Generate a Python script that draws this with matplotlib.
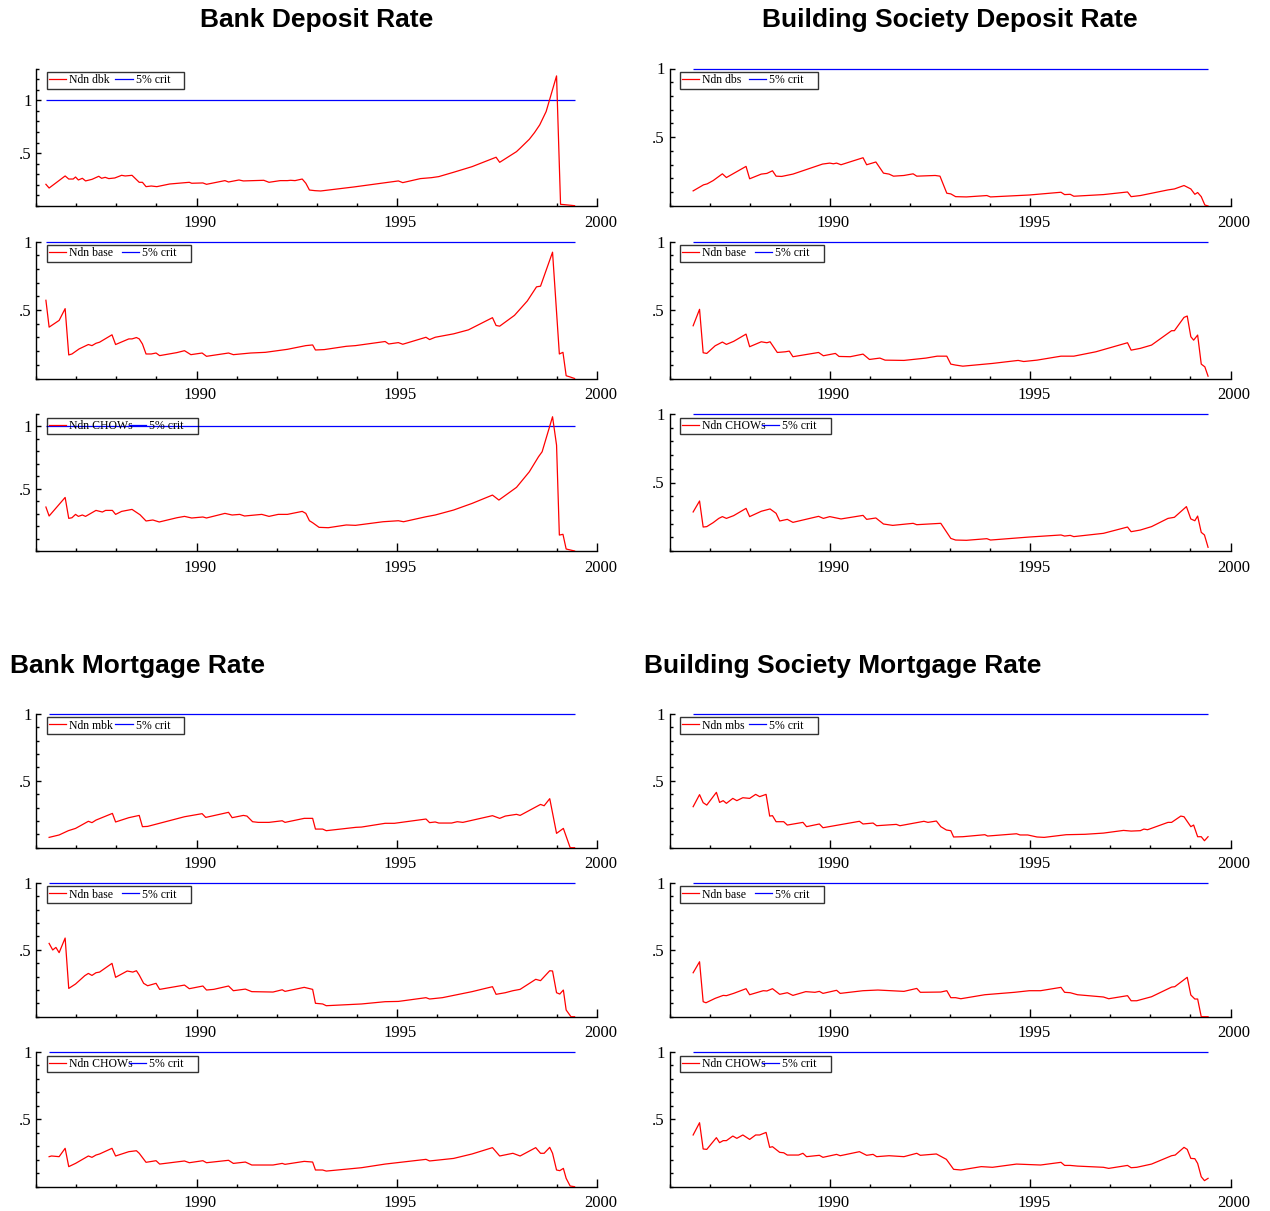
import matplotlib
matplotlib.use("Agg")
import matplotlib.pyplot as plt
from matplotlib.lines import Line2D
from matplotlib.font_manager import FontProperties
from matplotlib.transforms import offset_copy, ScaledTranslation
from matplotlib.ticker import FixedLocator, MultipleLocator, FixedFormatter

plt.rcParams['font.family'] = ['Liberation Serif', 'DejaVu Serif']

# ---------------------------------------------------------------- data
# Deposit rates: banks
dbk_x = [
    1986.24, 1986.32, 1986.72, 1986.81, 1986.92, 1986.98, 1987.05, 1987.15,
    1987.23, 1987.39, 1987.56, 1987.63, 1987.72, 1987.81, 1987.96, 1988.13,
    1988.22, 1988.39, 1988.57, 1988.65, 1988.74, 1988.87, 1989.01, 1989.33,
    1989.82, 1989.88, 1990.16, 1990.25, 1990.71, 1990.80, 1991.06, 1991.17,
    1991.68, 1991.81, 1992.09, 1992.27, 1992.35, 1992.46, 1992.64, 1992.73,
    1992.82, 1992.96, 1993.10, 1993.93, 1995.04, 1995.15, 1995.59, 1995.87,
    1996.05, 1996.42, 1996.88, 1997.48, 1997.57, 1997.99, 1998.08, 1998.31,
    1998.44, 1998.57, 1998.73, 1998.99, 1999.09, 1999.18, 1999.44]
dbk_y = [
    0.205, 0.170, 0.284, 0.255, 0.255, 0.274, 0.246, 0.262,
    0.237, 0.252, 0.281, 0.262, 0.271, 0.259, 0.265, 0.290,
    0.284, 0.290, 0.224, 0.224, 0.183, 0.189, 0.183, 0.208,
    0.224, 0.215, 0.218, 0.205, 0.240, 0.227, 0.246, 0.237,
    0.243, 0.224, 0.240, 0.240, 0.243, 0.240, 0.255, 0.215,
    0.151, 0.145, 0.142, 0.180, 0.237, 0.221, 0.259, 0.268,
    0.278, 0.319, 0.372, 0.461, 0.413, 0.514, 0.546, 0.631,
    0.694, 0.767, 0.893, 1.230, 0.016, 0.013, 0.003]

dbk_base_x = [
    1986.24, 1986.32, 1986.57, 1986.72, 1986.81, 1986.89, 1987.07, 1987.30,
    1987.39, 1987.49, 1987.58, 1987.89, 1987.98, 1988.31, 1988.39, 1988.50,
    1988.57, 1988.65, 1988.74, 1988.87, 1988.99, 1989.08, 1989.51, 1989.70,
    1989.86, 1990.14, 1990.25, 1990.80, 1990.92, 1991.35, 1991.72, 1992.27,
    1992.73, 1992.90, 1992.97, 1993.19, 1993.74, 1993.97, 1994.71, 1994.80,
    1995.04, 1995.15, 1995.73, 1995.82, 1995.96, 1996.42, 1996.79, 1997.39,
    1997.48, 1997.57, 1997.94, 1998.26, 1998.49, 1998.59, 1998.89, 1999.06,
    1999.15, 1999.23, 1999.32, 1999.44]
dbk_base_y = [
    0.571, 0.375, 0.424, 0.510, 0.172, 0.179, 0.216, 0.248,
    0.240, 0.257, 0.265, 0.319, 0.248, 0.289, 0.289, 0.299,
    0.289, 0.252, 0.179, 0.179, 0.186, 0.167, 0.189, 0.203,
    0.174, 0.186, 0.162, 0.186, 0.174, 0.186, 0.191, 0.213,
    0.240, 0.245, 0.208, 0.211, 0.235, 0.240, 0.270, 0.252,
    0.262, 0.250, 0.301, 0.284, 0.301, 0.326, 0.355, 0.444,
    0.387, 0.382, 0.461, 0.566, 0.669, 0.674, 0.922, 0.179,
    0.191, 0.020, 0.012, 0.0]

dbk_chow_x = [
    1986.24, 1986.32, 1986.72, 1986.81, 1986.89, 1986.98, 1987.05, 1987.15,
    1987.23, 1987.49, 1987.65, 1987.73, 1987.90, 1987.98, 1988.13, 1988.39,
    1988.59, 1988.74, 1988.91, 1989.07, 1989.51, 1989.70, 1989.88, 1990.16,
    1990.25, 1990.71, 1990.89, 1991.08, 1991.20, 1991.63, 1991.81, 1992.04,
    1992.27, 1992.64, 1992.73, 1992.82, 1992.90, 1993.06, 1993.29, 1993.74,
    1993.97, 1994.66, 1995.04, 1995.17, 1995.73, 1995.96, 1996.42, 1996.88,
    1997.39, 1997.55, 1997.99, 1998.31, 1998.54, 1998.63, 1998.89, 1998.99,
    1999.06, 1999.15, 1999.23, 1999.44]
dbk_chow_y = [
    0.353, 0.281, 0.430, 0.262, 0.267, 0.294, 0.278, 0.289,
    0.278, 0.326, 0.313, 0.326, 0.326, 0.294, 0.318, 0.334,
    0.291, 0.241, 0.249, 0.233, 0.267, 0.278, 0.265, 0.273,
    0.265, 0.302, 0.289, 0.294, 0.281, 0.294, 0.278, 0.294,
    0.294, 0.318, 0.302, 0.243, 0.227, 0.190, 0.187, 0.209,
    0.206, 0.235, 0.243, 0.235, 0.275, 0.289, 0.329, 0.382,
    0.449, 0.409, 0.511, 0.636, 0.757, 0.797, 1.078, 0.850,
    0.128, 0.134, 0.016, 0.0]

# Deposit rates: building societies
dbs_x = [
    1986.59, 1986.85, 1986.94, 1987.09, 1987.32, 1987.42, 1987.91, 1988.00,
    1988.29, 1988.43, 1988.57, 1988.66, 1988.80, 1989.08, 1989.82, 1990.00,
    1990.09, 1990.17, 1990.28, 1990.83, 1990.92, 1991.15, 1991.34, 1991.48,
    1991.59, 1991.85, 1992.08, 1992.17, 1992.63, 1992.75, 1992.92, 1993.02,
    1993.14, 1993.41, 1993.92, 1994.01, 1994.98, 1995.77, 1995.86, 1996.00,
    1996.09, 1996.83, 1997.43, 1997.52, 1997.75, 1998.44, 1998.60, 1998.84,
    1999.01, 1999.11, 1999.18, 1999.27, 1999.36, 1999.44]
dbs_y = [
    0.110, 0.154, 0.161, 0.185, 0.234, 0.207, 0.288, 0.198,
    0.232, 0.237, 0.256, 0.217, 0.215, 0.232, 0.305, 0.312,
    0.307, 0.312, 0.300, 0.351, 0.300, 0.320, 0.239, 0.232,
    0.217, 0.222, 0.234, 0.217, 0.222, 0.217, 0.093, 0.088,
    0.068, 0.066, 0.076, 0.066, 0.080, 0.100, 0.083, 0.085,
    0.071, 0.083, 0.102, 0.068, 0.076, 0.117, 0.124, 0.149,
    0.124, 0.085, 0.098, 0.068, 0.007, 0.0]

dbs_base_x = [
    1986.59, 1986.75, 1986.84, 1986.93, 1987.14, 1987.32, 1987.42, 1987.60,
    1987.91, 1988.00, 1988.29, 1988.43, 1988.51, 1988.69, 1988.89, 1988.99,
    1989.08, 1989.72, 1989.84, 1990.14, 1990.23, 1990.51, 1990.83, 1990.99,
    1991.25, 1991.38, 1991.85, 1992.40, 1992.68, 1992.92, 1993.02, 1993.14,
    1993.32, 1994.06, 1994.70, 1994.84, 1995.17, 1995.77, 1996.09, 1996.64,
    1997.43, 1997.52, 1997.75, 1998.03, 1998.53, 1998.60, 1998.84, 1998.92,
    1999.01, 1999.08, 1999.18, 1999.27, 1999.36, 1999.44]
dbs_base_y = [
    0.385, 0.505, 0.188, 0.183, 0.239, 0.266, 0.249, 0.271,
    0.324, 0.232, 0.268, 0.261, 0.268, 0.190, 0.195, 0.200,
    0.159, 0.190, 0.166, 0.183, 0.161, 0.159, 0.178, 0.139,
    0.149, 0.134, 0.132, 0.149, 0.163, 0.163, 0.105, 0.098,
    0.090, 0.110, 0.132, 0.124, 0.134, 0.163, 0.163, 0.195,
    0.261, 0.207, 0.220, 0.244, 0.349, 0.349, 0.446, 0.456,
    0.305, 0.280, 0.317, 0.105, 0.085, 0.017]

dbs_chow_x = [
    1986.59, 1986.75, 1986.84, 1986.93, 1987.09, 1987.23, 1987.32, 1987.42,
    1987.60, 1987.91, 1988.00, 1988.29, 1988.51, 1988.66, 1988.75, 1988.94,
    1989.08, 1989.72, 1989.84, 1990.00, 1990.28, 1990.83, 1990.92, 1991.15,
    1991.34, 1991.57, 1992.08, 1992.17, 1992.77, 1993.02, 1993.14, 1993.41,
    1993.92, 1994.01, 1994.98, 1995.77, 1995.86, 1996.00, 1996.09, 1996.83,
    1997.43, 1997.52, 1997.75, 1998.03, 1998.44, 1998.60, 1998.90, 1999.01,
    1999.11, 1999.18, 1999.27, 1999.35, 1999.44]
dbs_chow_y = [
    0.285, 0.365, 0.175, 0.178, 0.207, 0.238, 0.251, 0.238,
    0.258, 0.311, 0.251, 0.290, 0.307, 0.275, 0.219, 0.231,
    0.209, 0.253, 0.238, 0.251, 0.234, 0.260, 0.231, 0.241,
    0.197, 0.187, 0.202, 0.192, 0.202, 0.092, 0.080, 0.078,
    0.090, 0.080, 0.102, 0.117, 0.109, 0.114, 0.105, 0.129,
    0.175, 0.141, 0.153, 0.178, 0.238, 0.246, 0.324, 0.234,
    0.221, 0.255, 0.136, 0.117, 0.027]

# Mortgage rates: banks
mbk_x = [
    1986.32, 1986.57, 1986.80, 1986.98, 1987.30, 1987.39, 1987.49, 1987.90,
    1987.98, 1988.31, 1988.57, 1988.65, 1988.78, 1989.70, 1990.14, 1990.23,
    1990.80, 1990.89, 1991.17, 1991.26, 1991.40, 1991.54, 1991.81, 1992.14,
    1992.21, 1992.69, 1992.90, 1992.97, 1993.15, 1993.24, 1993.98, 1994.12,
    1994.71, 1994.94, 1995.73, 1995.82, 1995.96, 1996.05, 1996.37, 1996.51,
    1996.65, 1997.39, 1997.57, 1997.71, 1997.99, 1998.08, 1998.59, 1998.68,
    1998.82, 1998.99, 1999.16, 1999.33, 1999.44]
mbk_y = [
    0.077, 0.095, 0.127, 0.144, 0.197, 0.187, 0.206, 0.256,
    0.192, 0.224, 0.241, 0.157, 0.159, 0.231, 0.254, 0.226,
    0.264, 0.224, 0.241, 0.236, 0.194, 0.189, 0.189, 0.201,
    0.189, 0.219, 0.219, 0.139, 0.139, 0.127, 0.152, 0.154,
    0.182, 0.182, 0.214, 0.187, 0.192, 0.184, 0.184, 0.194,
    0.189, 0.239, 0.219, 0.236, 0.249, 0.241, 0.323, 0.313,
    0.366, 0.107, 0.144, 0.0, 0.0]

mbk_base_x = [
    1986.32, 1986.41, 1986.49, 1986.57, 1986.72, 1986.81, 1986.98, 1987.21,
    1987.30, 1987.39, 1987.49, 1987.58, 1987.89, 1987.98, 1988.27, 1988.41,
    1988.50, 1988.57, 1988.68, 1988.78, 1988.99, 1989.08, 1989.70, 1989.82,
    1990.16, 1990.25, 1990.43, 1990.80, 1990.92, 1991.22, 1991.38, 1991.91,
    1992.14, 1992.21, 1992.69, 1992.90, 1992.97, 1993.15, 1993.24, 1994.12,
    1994.71, 1995.04, 1995.73, 1995.82, 1996.14, 1996.88, 1997.39, 1997.48,
    1997.71, 1997.90, 1998.08, 1998.47, 1998.59, 1998.82, 1998.89, 1998.99,
    1999.07, 1999.16, 1999.23, 1999.35, 1999.44]
mbk_base_y = [
    0.547, 0.498, 0.517, 0.478, 0.587, 0.211, 0.244, 0.306,
    0.323, 0.308, 0.328, 0.333, 0.398, 0.294, 0.341, 0.333,
    0.343, 0.311, 0.249, 0.231, 0.249, 0.204, 0.236, 0.209,
    0.229, 0.199, 0.204, 0.229, 0.194, 0.206, 0.187, 0.184,
    0.201, 0.189, 0.219, 0.204, 0.100, 0.095, 0.082, 0.095,
    0.112, 0.114, 0.142, 0.132, 0.142, 0.187, 0.224, 0.167,
    0.179, 0.194, 0.204, 0.279, 0.269, 0.343, 0.341, 0.179,
    0.169, 0.199, 0.050, 0.0, 0.0]

mbk_chow_x = [
    1986.32, 1986.38, 1986.57, 1986.72, 1986.81, 1986.98, 1987.30, 1987.39,
    1987.49, 1987.58, 1987.89, 1987.98, 1988.31, 1988.50, 1988.57, 1988.74,
    1988.99, 1989.08, 1989.70, 1989.82, 1990.16, 1990.25, 1990.80, 1990.92,
    1991.22, 1991.38, 1991.91, 1992.14, 1992.21, 1992.69, 1992.90, 1992.97,
    1993.15, 1993.24, 1994.12, 1994.71, 1995.73, 1995.82, 1996.42, 1996.88,
    1997.39, 1997.57, 1997.90, 1998.08, 1998.47, 1998.59, 1998.68, 1998.82,
    1998.89, 1998.99, 1999.07, 1999.16, 1999.23, 1999.33, 1999.44]
mbk_chow_y = [
    0.223, 0.228, 0.223, 0.285, 0.149, 0.173, 0.228, 0.218,
    0.235, 0.243, 0.285, 0.228, 0.260, 0.267, 0.248, 0.181,
    0.193, 0.168, 0.191, 0.178, 0.193, 0.178, 0.196, 0.173,
    0.183, 0.161, 0.161, 0.173, 0.166, 0.188, 0.183, 0.124,
    0.124, 0.116, 0.141, 0.168, 0.203, 0.191, 0.210, 0.243,
    0.290, 0.228, 0.248, 0.228, 0.290, 0.248, 0.248, 0.292,
    0.248, 0.124, 0.119, 0.136, 0.062, 0.005, 0.0]

# Mortgage rates: building societies
mbs_x = [
    1986.59, 1986.75, 1986.84, 1986.93, 1987.17, 1987.25, 1987.34, 1987.42,
    1987.58, 1987.68, 1987.83, 1988.00, 1988.15, 1988.25, 1988.41, 1988.50,
    1988.57, 1988.66, 1988.85, 1988.94, 1989.33, 1989.42, 1989.74, 1989.83,
    1990.74, 1990.83, 1991.08, 1991.17, 1991.66, 1991.75, 1992.35, 1992.45,
    1992.66, 1992.77, 1992.91, 1993.02, 1993.09, 1993.32, 1993.87, 1993.94,
    1994.66, 1994.75, 1994.94, 1995.17, 1995.35, 1995.90, 1996.37, 1996.83,
    1997.33, 1997.52, 1997.75, 1997.84, 1997.93, 1998.44, 1998.53, 1998.76,
    1998.84, 1999.01, 1999.08, 1999.18, 1999.27, 1999.35, 1999.44]
mbs_y = [
    0.306, 0.396, 0.336, 0.318, 0.413, 0.338, 0.351, 0.331,
    0.368, 0.351, 0.373, 0.368, 0.398, 0.381, 0.398, 0.236,
    0.239, 0.194, 0.194, 0.169, 0.189, 0.157, 0.177, 0.149,
    0.197, 0.177, 0.184, 0.164, 0.174, 0.164, 0.197, 0.189,
    0.199, 0.157, 0.132, 0.127, 0.080, 0.082, 0.097, 0.087,
    0.104, 0.095, 0.095, 0.080, 0.077, 0.097, 0.100, 0.109,
    0.129, 0.124, 0.127, 0.139, 0.134, 0.189, 0.189, 0.236,
    0.231, 0.157, 0.169, 0.082, 0.082, 0.052, 0.082]

mbs_base_x = [
    1986.59, 1986.75, 1986.84, 1986.91, 1987.14, 1987.34, 1987.42, 1987.60,
    1987.91, 1988.00, 1988.34, 1988.43, 1988.57, 1988.75, 1988.94, 1989.08,
    1989.40, 1989.63, 1989.74, 1989.83, 1990.17, 1990.26, 1990.83, 1991.20,
    1991.85, 1992.17, 1992.26, 1992.77, 1992.92, 1993.02, 1993.14, 1993.27,
    1993.87, 1994.61, 1994.98, 1995.26, 1995.77, 1995.86, 1996.00, 1996.18,
    1996.83, 1996.96, 1997.43, 1997.52, 1997.66, 1998.03, 1998.53, 1998.61,
    1998.92, 1999.01, 1999.11, 1999.18, 1999.27, 1999.44]
mbs_base_y = [
    0.328, 0.410, 0.112, 0.104, 0.137, 0.159, 0.157, 0.174,
    0.209, 0.164, 0.194, 0.192, 0.209, 0.167, 0.179, 0.159,
    0.187, 0.182, 0.189, 0.174, 0.197, 0.174, 0.194, 0.199,
    0.189, 0.211, 0.182, 0.184, 0.194, 0.142, 0.142, 0.134,
    0.164, 0.182, 0.194, 0.194, 0.219, 0.182, 0.179, 0.164,
    0.147, 0.134, 0.157, 0.119, 0.119, 0.149, 0.221, 0.224,
    0.294, 0.162, 0.132, 0.132, 0.0, 0.0]

mbs_chow_x = [
    1986.59, 1986.75, 1986.84, 1986.93, 1987.17, 1987.25, 1987.34, 1987.42,
    1987.58, 1987.68, 1987.83, 1988.00, 1988.15, 1988.25, 1988.41, 1988.50,
    1988.57, 1988.75, 1988.85, 1988.94, 1989.22, 1989.33, 1989.42, 1989.74,
    1989.83, 1990.17, 1990.26, 1990.74, 1990.92, 1991.08, 1991.17, 1991.48,
    1991.85, 1992.17, 1992.26, 1992.66, 1992.91, 1993.09, 1993.27, 1993.78,
    1994.06, 1994.66, 1995.26, 1995.77, 1995.86, 1996.00, 1996.18, 1996.83,
    1996.96, 1997.43, 1997.52, 1997.66, 1998.03, 1998.53, 1998.62, 1998.84,
    1998.92, 1999.01, 1999.11, 1999.18, 1999.27, 1999.35, 1999.44]
mbs_chow_y = [
    0.384, 0.475, 0.280, 0.277, 0.364, 0.327, 0.342, 0.342,
    0.376, 0.359, 0.384, 0.351, 0.384, 0.384, 0.403, 0.292,
    0.297, 0.255, 0.252, 0.235, 0.235, 0.248, 0.223, 0.233,
    0.218, 0.240, 0.230, 0.260, 0.233, 0.240, 0.223, 0.230,
    0.223, 0.248, 0.233, 0.243, 0.203, 0.129, 0.124, 0.149,
    0.144, 0.168, 0.161, 0.181, 0.158, 0.158, 0.153, 0.144,
    0.136, 0.158, 0.141, 0.144, 0.168, 0.230, 0.235, 0.292,
    0.277, 0.210, 0.208, 0.173, 0.074, 0.045, 0.062]

crit_5pct = 1.0
crit_label = "5% crit"

section_titles = ["Bank Deposit Rate", "Building Society Deposit Rate",
                  "Bank Mortgage Rate", "Building Society Mortgage Rate"]
x_tick_vals = [1990, 1995, 2000]
x_tick_labels = ["1990", "1995", "2000"]
y_tick_vals = [0.5, 1.0]
y_tick_labels = [".5", "1"]

# (column, row, x, y, legend label, upper y limit)
panels = [
    (0, 0, dbk_x, dbk_y, "Ndn dbk", 1.3),
    (0, 1, dbk_base_x, dbk_base_y, "Ndn base", 1.0),
    (0, 2, dbk_chow_x, dbk_chow_y, "Ndn CHOWs", 1.1),
    (1, 0, dbs_x, dbs_y, "Ndn dbs", 1.0),
    (1, 1, dbs_base_x, dbs_base_y, "Ndn base", 1.0),
    (1, 2, dbs_chow_x, dbs_chow_y, "Ndn CHOWs", 1.0),
    (0, 3, mbk_x, mbk_y, "Ndn mbk", 1.0),
    (0, 4, mbk_base_x, mbk_base_y, "Ndn base", 1.0),
    (0, 5, mbk_chow_x, mbk_chow_y, "Ndn CHOWs", 1.0),
    (1, 3, mbs_x, mbs_y, "Ndn mbs", 1.0),
    (1, 4, mbs_base_x, mbs_base_y, "Ndn base", 1.0),
    (1, 5, mbs_chow_x, mbs_chow_y, "Ndn CHOWs", 1.0),
]

# ---------------------------------------------------------------- layout
W, H, DPI = 1270, 1211, 100
RED, BLUE = "#ff0000", "#0000ff"
LW = 0.9
LEG_FS = 8.5
CHAR_PX = 6.6           # legend entries advance a fixed width per character

col_px = [(36.3, 597.0), (669.5, 1230.5)]
row_px = [(68.5, 206.0), (241.5, 378.5), (414.0, 551.0),
          (713.7, 847.7), (882.7, 1016.7), (1052.0, 1186.7)]

fig = plt.figure(figsize=(W / DPI, H / DPI), dpi=DPI)
renderer = fig.canvas.get_renderer()
leg_prop = FontProperties(family="Liberation Serif", size=LEG_FS)
fs_px = LEG_FS * DPI / 72.0


def text_px(s):
    w, _, _ = renderer.get_text_width_height_descent(s, leg_prop, ismath=False)
    return w


def padded(s, target):
    # widen a legend label with trailing blanks up to a target pixel width
    while text_px(s) < target:
        s += " "
    return s


def make_axes(col, row):
    x0, x1 = col_px[col]
    y0, y1 = row_px[row]
    return fig.add_axes([x0 / W, 1 - y1 / H, (x1 - x0) / W, (y1 - y0) / H])


def style_axes(ax, ytop):
    ax.set_xlim(1986, 2000)
    ax.set_ylim(0, ytop)
    for side in ("top", "right"):
        ax.spines[side].set_visible(False)
    for side in ("left", "bottom"):
        ax.spines[side].set_linewidth(1.0)
    ax.xaxis.set_major_locator(FixedLocator(x_tick_vals))
    ax.xaxis.set_major_formatter(FixedFormatter(x_tick_labels))
    ax.xaxis.set_minor_locator(MultipleLocator(1))
    ax.yaxis.set_major_locator(FixedLocator(y_tick_vals))
    ax.yaxis.set_major_formatter(FixedFormatter(y_tick_labels))
    ax.yaxis.set_minor_locator(MultipleLocator(0.1))
    ax.tick_params(axis="both", which="both", direction="in", width=1.0,
                   labelsize=12, colors="black")
    ax.tick_params(axis="x", which="major", length=5.8, pad=6.3)
    ax.tick_params(axis="x", which="minor", length=2.4)
    ax.tick_params(axis="y", which="major", length=3.4, pad=3.5)
    ax.tick_params(axis="y", which="minor", length=2.4)
    shift = ScaledTranslation(3.5 / DPI, 0, fig.dpi_scale_trans)
    for lab in ax.get_xticklabels():
        lab.set_transform(lab.get_transform() + shift)


def add_legend(ax, label):
    handles = [Line2D([], [], color=RED, lw=LW), Line2D([], [], color=BLUE, lw=LW)]
    gap = len(label) * CHAR_PX - text_px(label)
    crit_text = padded(crit_label, len(crit_label) * CHAR_PX - 2.0)
    anchor = offset_copy(ax.transAxes, fig=fig, x=10.5, y=-3.5, units="dots")
    leg = ax.legend(handles, [label, crit_text], ncol=2, loc="upper left",
                    bbox_to_anchor=(0, 1), bbox_transform=anchor,
                    borderaxespad=0, prop=leg_prop, handlelength=1.45,
                    handletextpad=0.25, columnspacing=gap / fs_px,
                    borderpad=0.2, fancybox=False, frameon=True,
                    edgecolor="black", facecolor="none")
    leg.get_frame().set_linewidth(1.0)


for col, row, xs, ys, label, ytop in panels:
    ax = make_axes(col, row)
    style_axes(ax, ytop)
    ax.plot(xs, ys, color=RED, lw=LW, zorder=3)
    ax.hlines(crit_5pct, xs[0], xs[-1], colors=BLUE, lw=LW, zorder=2,
              clip_on=False)
    add_legend(ax, label)

title_font = dict(family="Liberation Sans", weight="bold", size=19)
fig.text(316.6 / W, 1 - 20.5 / H, section_titles[0], ha="center", va="center", **title_font)
fig.text(950.0 / W, 1 - 20.5 / H, section_titles[1], ha="center", va="center", **title_font)
fig.text(10 / W, 1 - 665.5 / H, section_titles[2], ha="left", va="center", **title_font)
fig.text(644 / W, 1 - 665.5 / H, section_titles[3], ha="left", va="center", **title_font)

fig.savefig("out.png", dpi=DPI)
